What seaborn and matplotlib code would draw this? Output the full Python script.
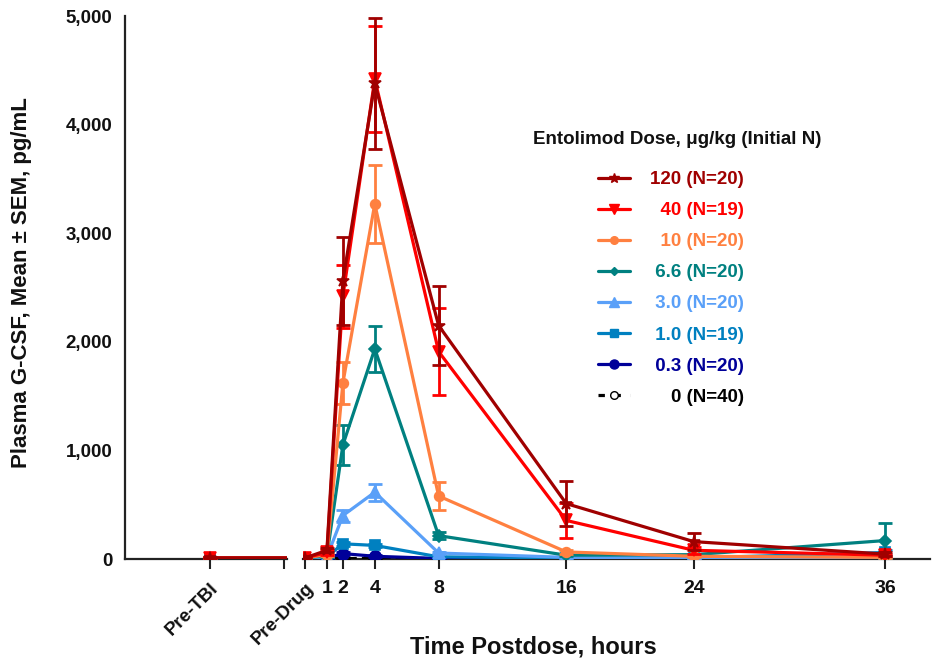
import matplotlib
matplotlib.use("Agg")
import matplotlib.pyplot as plt
from matplotlib.lines import Line2D
from matplotlib.ticker import FuncFormatter
import numpy as np
import pandas as pd
import seaborn as sns

# ---------------- data ----------------
time_labels = ["Pre-TBI", "Pre-Drug", "1", "2", "4", "8", "16", "24", "36"]
time_hours = [None, None, 1, 2, 4, 8, 16, 24, 36]

legend_title = "Entolimod Dose, \u03bcg/kg (Initial N)"
dose_labels = ["120 (N=20)", "  40 (N=19)", "  10 (N=20)", " 6.6 (N=20)",
               " 3.0 (N=20)", " 1.0 (N=19)", " 0.3 (N=20)", "    0 (N=40)"]

mean_120 = [10, 10, 80, 2560, 4380, 2150, 510, 160, 45]
sem_120 = [5, 5, 20, 405, 605, 360, 210, 75, 15]
mean_40 = [10, 10, 60, 2420, 4420, 1910, 355, 80, 35]
sem_40 = [5, 5, 20, 290, 485, 400, 160, 30, 10]
mean_10 = [10, 10, 40, 1620, 3270, 580, 65, 25, 15]
sem_10 = [5, 5, 10, 190, 360, 125, 15, 5, 5]
mean_6_6 = [10, 10, 30, 1050, 1935, 215, 35, 40, 170]
sem_6_6 = [5, 5, 10, 180, 210, 30, 10, 10, 160]
mean_3_0 = [8, 8, 20, 400, 615, 55, 15, 10, 10]
sem_3_0 = [3, 3, 5, 55, 80, 10, 5, 3, 3]
mean_1_0 = [8, 8, 20, 140, 125, 20, 10, 10, 60]
sem_1_0 = [3, 3, 5, 20, 15, 5, 3, 3, 20]
mean_0_3 = [5, 5, 10, 50, 25, 5, 5, 5, 5]
sem_0_3 = [2, 2, 3, 10, 8, 2, 2, 2, 2]
mean_0 = [5, 5, 5, 5, 5, 5, 5, 5, 5]
sem_0 = [2, 2, 2, 2, 2, 2, 2, 2, 2]

means = [mean_120, mean_40, mean_10, mean_6_6, mean_3_0, mean_1_0, mean_0_3, mean_0]
sems = [sem_120, sem_40, sem_10, sem_6_6, sem_3_0, sem_1_0, sem_0_3, sem_0]

# ---------------- style ----------------
colors = ["#A00000", "#FF0000", "#FF8040", "#008080", "#5AA0F8", "#0080C0", "#000099", "#000000"]
markers = ["*", "v", "o", "D", "^", "s", "o", "o"]
msizes = [9, 8, 7, 6, 8, 7, 8, 7]

# axis positions for the categorical pre-dose points (layout)
POS_PRE_TBI = -6.37
POS_PRE_DRUG = -0.375
positions = [POS_PRE_TBI, POS_PRE_DRUG] + time_hours[2:]

sns.set_theme(style="white")
plt.rcParams["font.family"] = ["Liberation Sans", "DejaVu Sans"]
plt.rcParams["font.weight"] = "bold"

W, H = 932, 663
fig = plt.figure(figsize=(W / 100, H / 100), dpi=100)

def fx(px):
    return px / W

def fy(py):
    return 1 - py / H

bottom = fy(559)
height = fy(16) - bottom
axL = fig.add_axes([fx(125), bottom, fx(287) - fx(125), height])
axR = fig.add_axes([fx(303), bottom, fx(930) - fx(303), height], sharey=axL)

rows = []
for lab, m in zip(dose_labels, means):
    for p, v in zip(positions, m):
        rows.append({"pos": p, "value": v, "dose": lab})
df = pd.DataFrame(rows)

for ax in (axL, axR):
    # draw from lowest dose to highest so the high doses are on top
    for i in range(len(dose_labels) - 1, -1, -1):
        lab = dose_labels[i]
        sub = df[df["dose"] == lab]
        is_zero = i == len(dose_labels) - 1
        sns.lineplot(data=sub, x="pos", y="value", ax=ax, color=colors[i],
                     marker=markers[i], markersize=msizes[i], linewidth=2.3,
                     markerfacecolor="white" if is_zero else colors[i],
                     markeredgecolor=colors[i], markeredgewidth=1.2,
                     linestyle="--" if is_zero else "-",
                     dashes=(2, 3) if is_zero else (None, None),
                     legend=False, clip_on=True, zorder=3 + (8 - i))
        ax.errorbar(positions, means[i], yerr=sems[i], fmt="none",
                    ecolor=colors[i], elinewidth=2, capsize=5, capthick=2,
                    zorder=3 + (8 - i))

# ---------------- axes ----------------
axL.set_xlim(-11.7, -1.54)
axR.set_xlim(-0.5, 38.8)
axL.set_ylim(0, 5000)

for ax in (axL, axR):
    ax.set_xlabel("")
    ax.set_ylabel("")
    ax.spines["top"].set_visible(False)
    ax.spines["right"].set_visible(False)
    for s in ax.spines.values():
        s.set_color("#222222")
        s.set_linewidth(1.6)
    ax.patch.set_alpha(0)

axR.spines["left"].set_visible(False)
axR.tick_params(axis="y", left=False, labelleft=False)

axL.set_yticks([0, 1000, 2000, 3000, 4000, 5000])
axL.yaxis.set_major_formatter(FuncFormatter(lambda v, p: f"{int(v):,}"))
axL.tick_params(axis="y", direction="out", length=5, width=1.5, color="#222222",
                labelsize=13.5, pad=4)
for t in axL.get_yticklabels():
    t.set_fontweight("bold")
    t.set_color("#111111")

axL.set_xticks([POS_PRE_TBI, -1.73])
axL.set_xticklabels(["Pre-TBI", ""])
axR.set_xticks(positions[1:])
axR.set_xticklabels(time_labels[1:])
for ax in (axL, axR):
    ax.tick_params(axis="x", direction="out", length=7, width=1.5, color="#222222",
                   labelsize=14, pad=8, bottom=True)
    for t in ax.get_xticklabels():
        t.set_fontweight("bold")
        t.set_color("#111111")
for ax in (axL, axR):
    for t in ax.get_xticklabels():
        if t.get_text().startswith("Pre"):
            t.set_rotation(45)
            t.set_ha("right")
            t.set_va("top")
            t.set_rotation_mode("anchor")
            t.set_fontsize(13.5)

fig.text(fx(533), fy(647), "Time Postdose, hours", ha="center", va="center",
         fontsize=17, fontweight="bold", color="#111111")
fig.text(fx(22), fy(283), "Plasma G-CSF, Mean \u00b1 SEM, pg/mL", ha="center",
         va="center", rotation=90, fontsize=16, fontweight="bold", color="#111111")

# ---------------- legend ----------------
fig.text(fx(677), fy(140), legend_title, ha="center", va="center",
         fontsize=13.5, fontweight="bold", color="#111111")
handles = []
for i, lab in enumerate(dose_labels):
    is_zero = i == len(dose_labels) - 1
    handles.append(Line2D([0], [0], color=colors[i], marker=markers[i],
                          markersize=msizes[i] - 1.5, linewidth=2.3,
                          linestyle="--" if is_zero else "-",
                          dashes=(2, 3) if is_zero else (None, None),
                          markerfacecolor="white" if is_zero else colors[i],
                          markeredgecolor=colors[i]))
leg = fig.legend(handles, dose_labels, loc="upper left",
                 bbox_to_anchor=(fx(598), fy(171)), frameon=False,
                 prop={"weight": "bold", "size": 13.5}, handlelength=1.7,
                 handletextpad=1.1, labelspacing=0.745, borderpad=0,
                 borderaxespad=0)
for t, c in zip(leg.get_texts(), colors):
    t.set_color(c)

fig.savefig("out.png", dpi=100)
